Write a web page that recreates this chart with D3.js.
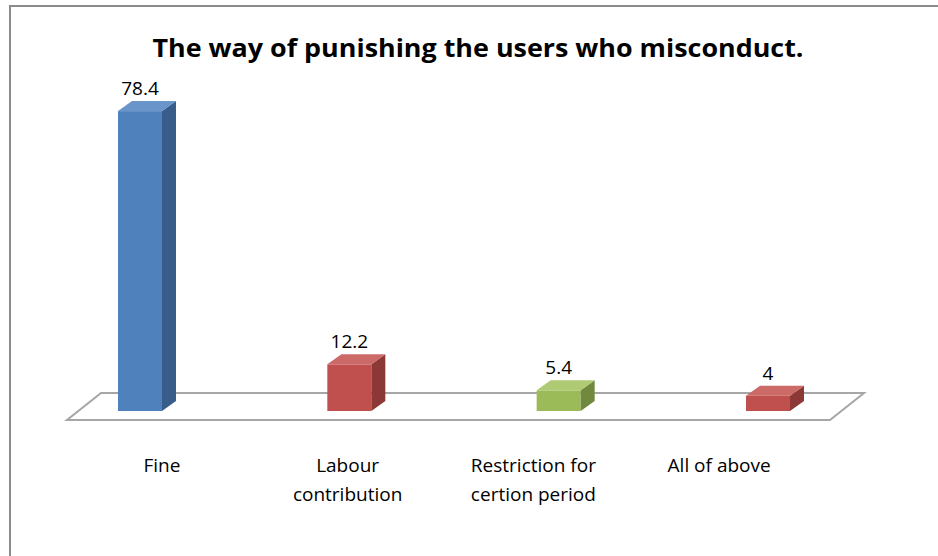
<!DOCTYPE html>
<html>
<head>
<meta charset="utf-8">
<script src="https://cdn.jsdelivr.net/npm/d3@7"></script>
<style>
  html, body { margin: 0; padding: 0; background: #fff; }
  svg { display: block; }
  text { font-family: "Open Sans", sans-serif; fill: #000; }
</style>
</head>
<body>
<svg id="chart" width="938" height="556"></svg>
<script>
// Survey result: how users who misconduct are punished (percent)
const title = "The way of punishing the users who misconduct.";
const categories = ["Fine", "Labour contribution", "Restriction for certion period", "All of above"];
const categoryLines = [["Fine"], ["Labour", "contribution"], ["Restriction for", "certion period"], ["All of above"]];
const values = [78.4, 12.2, 5.4, 4];
const valueLabels = ["78.4", "12.2", "5.4", "4"];
const barColors = ["blue", "red", "green", "red"];

// front / side / top shades for each column colour
const shades = {
  blue:  { front: "#4F81BD", side: "#385D8A", top: "#6A95CB" },
  red:   { front: "#C0504D", side: "#8C3836", top: "#CC6A67" },
  green: { front: "#9BBB59", side: "#71893F", top: "#AECB74" }
};

const svg = d3.select("#chart");
const W = 938, H = 556;

// chart frame (only its top and left edges fall inside the page)
svg.append("rect")
  .attr("x", 10).attr("y", 6)
  .attr("width", W + 20).attr("height", H + 20)
  .attr("fill", "#fff")
  .attr("stroke", "#8C8C8C").attr("stroke-width", 2);

// floor of the 3-D plot
const floorFront = { y: 420, x0: 67, x1: 830 };
const floorDepth = { dx: 34, dy: -27 };
const floorPath = d3.path();
floorPath.moveTo(floorFront.x0, floorFront.y);
floorPath.lineTo(floorFront.x1, floorFront.y);
floorPath.lineTo(floorFront.x1 + floorDepth.dx, floorFront.y + floorDepth.dy);
floorPath.lineTo(floorFront.x0 + floorDepth.dx, floorFront.y + floorDepth.dy);
floorPath.closePath();
svg.append("path")
  .attr("d", floorPath.toString())
  .attr("fill", "#fff")
  .attr("stroke", "#A6A6A6")
  .attr("stroke-width", 2);

// scales
const xBar = d3.scalePoint().domain(categories).range([140, 768]);
const xLabel = d3.scaleBand().domain(categories).range([69, 812]);
const y = d3.scaleLinear().domain([0, 80]).range([411, 105]);

const barW = 44;
const depth = { dx: 14, dy: -10 };

const bars = svg.append("g").selectAll("g")
  .data(categories.map((c, i) => ({ c, v: values[i], label: valueLabels[i], col: shades[barColors[i]] })))
  .join("g");

// front face
bars.append("rect")
  .attr("x", d => xBar(d.c) - barW / 2)
  .attr("y", d => y(d.v))
  .attr("width", barW)
  .attr("height", d => y(0) - y(d.v))
  .attr("fill", d => d.col.front);

// side face
bars.append("path")
  .attr("d", d => {
    const x = xBar(d.c) + barW / 2, t = y(d.v), b = y(0);
    return `M${x},${t}L${x + depth.dx},${t + depth.dy}L${x + depth.dx},${b + depth.dy}L${x},${b}Z`;
  })
  .attr("fill", d => d.col.side);

// top face
bars.append("path")
  .attr("d", d => {
    const x0 = xBar(d.c) - barW / 2, x1 = x0 + barW, t = y(d.v);
    return `M${x0},${t}L${x1},${t}L${x1 + depth.dx},${t + depth.dy}L${x0 + depth.dx},${t + depth.dy}Z`;
  })
  .attr("fill", d => d.col.top);

// value labels
bars.append("text")
  .attr("x", d => xBar(d.c))
  .attr("y", d => y(d.v) + depth.dy - 6)
  .attr("text-anchor", "middle")
  .attr("font-size", 19)
  .text(d => d.label);

// category labels on the front edge of the floor
const cat = svg.append("g").selectAll("text")
  .data(categories.map((c, i) => ({ c, lines: categoryLines[i] })))
  .join("text")
  .attr("x", d => xLabel(d.c) + xLabel.bandwidth() / 2)
  .attr("y", 472)
  .attr("text-anchor", "middle")
  .attr("font-size", 19);
cat.selectAll("tspan")
  .data(d => d.lines.map(l => ({ l, x: xLabel(d.c) + xLabel.bandwidth() / 2 })))
  .join("tspan")
  .attr("x", d => d.x)
  .attr("dy", (d, i) => i === 0 ? 0 : 29)
  .text(d => d.l);

// title
svg.append("text")
  .attr("x", 478)
  .attr("y", 57)
  .attr("text-anchor", "middle")
  .attr("font-size", 25)
  .attr("font-weight", "bold")
  .attr("textLength", 651)
  .attr("lengthAdjust", "spacingAndGlyphs")
  .text(title);
</script>
</body>
</html>
